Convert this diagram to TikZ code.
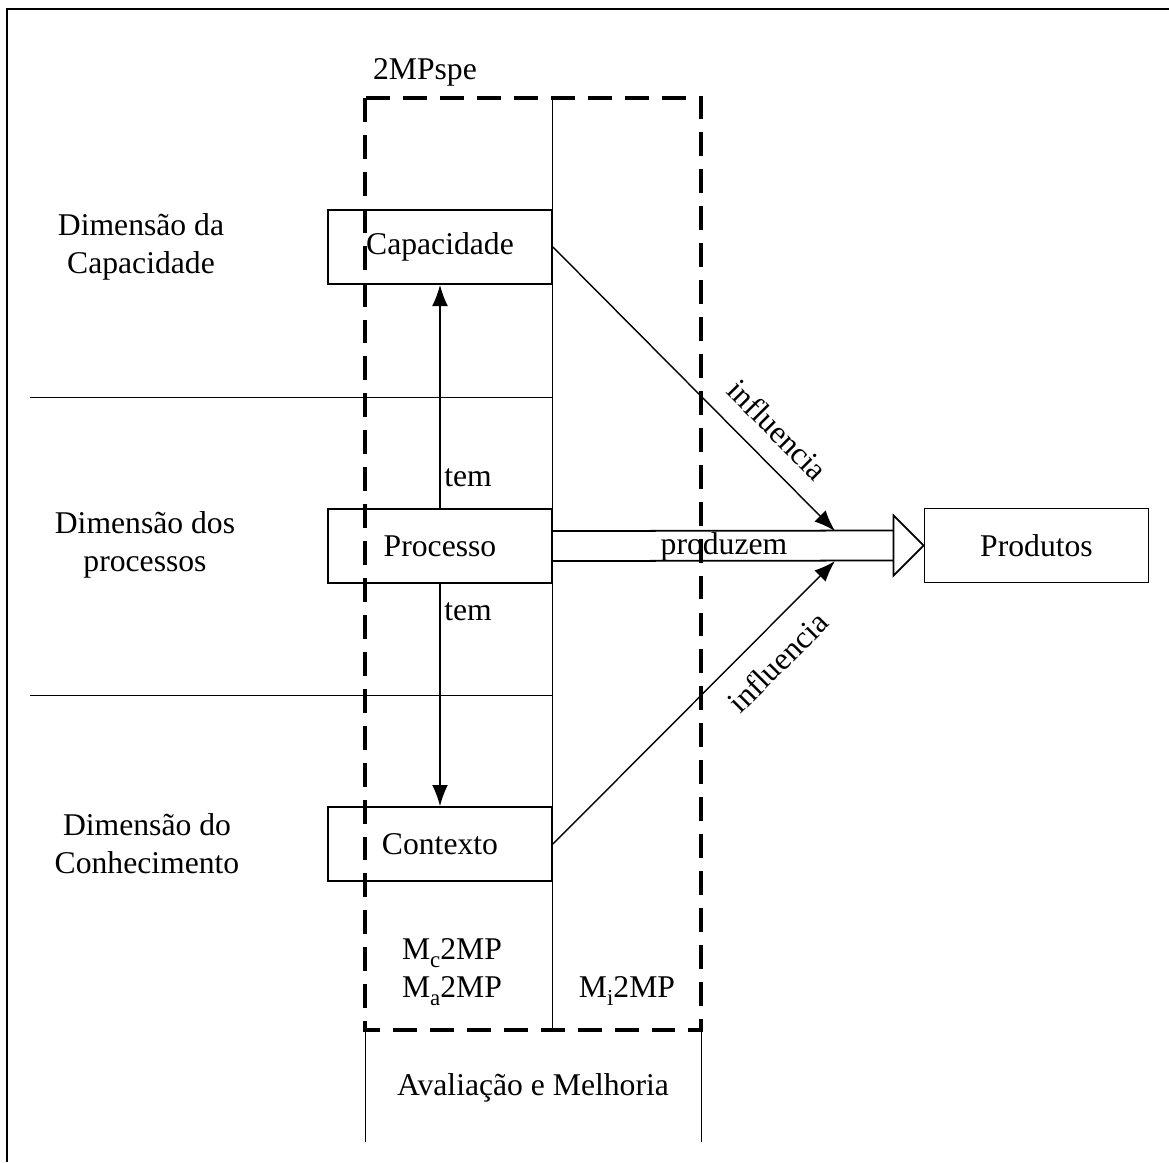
\documentclass[tikz,border=0pt]{standalone}
\usepackage{fontspec}
\setmainfont{Liberation Serif}
\usetikzlibrary{arrows.meta,
                calc}
\newcommand{\lowsub}[1]{\raisebox{-0.55ex}{\fontsize{6.5}{7}\selectfont #1}}

\begin{document}
\begin{tikzpicture}[x=0.01cm, y=-0.01cm,
        font=\fontsize{9}{10.8}\selectfont,
        box/.style={draw, line width=0.5pt, minimum width=2.24cm, minimum height=0.74cm},
        thin/.style={line width=0.25pt},
        frontier/.style={line width=0.9pt, dash pattern=on 6.8pt off 3.7pt},
        link/.style={line width=0.4pt, -{Latex[length=6pt,width=4.5pt]}},
        lbl/.style={align=center, inner sep=1pt}]
        \useasboundingbox (0,0) rectangle (1169,1162);
        \draw [line width=0.6pt] (7,1162) -- (7,9) -- (1169,9);
        % dimensoes
        \draw [thin] (30,397) -- (552,397);
        \draw [thin] (30,695) -- (552,695);
        \node [lbl] (dcap) at (141,247) {Dimensão da\\Capacidade};
        \node [lbl] (dproc) at (145,545) {Dimensão dos\\processos};
        \node [lbl] (dcon) at (147,844) {Dimensão do\\Conhecimento};
        % 2MPspe
        \draw [frontier] (365,98) rectangle (701,1030);
        \draw [thin] (552,98) -- (552,1030);
        \draw [thin] (365,1030) -- (365,1142);
        \draw [thin] (701,1030) -- (701,1142);
        \node [lbl] (spe) at (425,72) {2MPspe};
        \node [lbl] (mca) at (452,972) {M\lowsub{c}2MP\\M\lowsub{a}2MP};
        \node [lbl] (mi) at (627,991) {M\lowsub{i}2MP};
        \node [lbl] (am) at (533,1088) {Avaliação e Melhoria};
        % modelos
        \node [box] (cap) at (440,247) {Capacidade};
        \node [box] (proc) at (440,546) {Processo};
        \node [box] (con) at (440,844) {Contexto};
        \node [box] (prod) at (1036.5,545.5) {Produtos};
        \draw [link] (proc.north) -- (cap.south);
        \draw [link] (proc.south) -- (con.north);
        \node [lbl] (tem1) at (468,478) {tem};
        \node [lbl] (tem2) at (468,612) {tem};
        % produzem
        \coordinate (pa) at ($(prod.west)+(-30,0)$);
        \draw [line width=0.5pt] ($(proc.east)+(0,-15)$) -- ($(pa)+(0,-15)$);
        \draw [line width=0.5pt] ($(proc.east)+(0,15)$) -- ($(pa)+(0,15)$);
        \draw [line width=0.5pt, fill=white] ($(pa)+(0,-30)$) -- (prod.west) -- ($(pa)+(0,30)$) -- cycle;
        \node [lbl] (pz) at (724,547) {produzem};
        % influencia
        \coordinate (ia) at (835,531);
        \coordinate (ib) at (835,561);
        \draw [link] (cap.east) -- (ia) node [pos=0.72, sloped, above=2pt] {influencia};
        \draw [link] (con.east) -- (ib) node [pos=0.72, sloped, below=2pt] {influencia};
   \end{tikzpicture}
\end{document}
